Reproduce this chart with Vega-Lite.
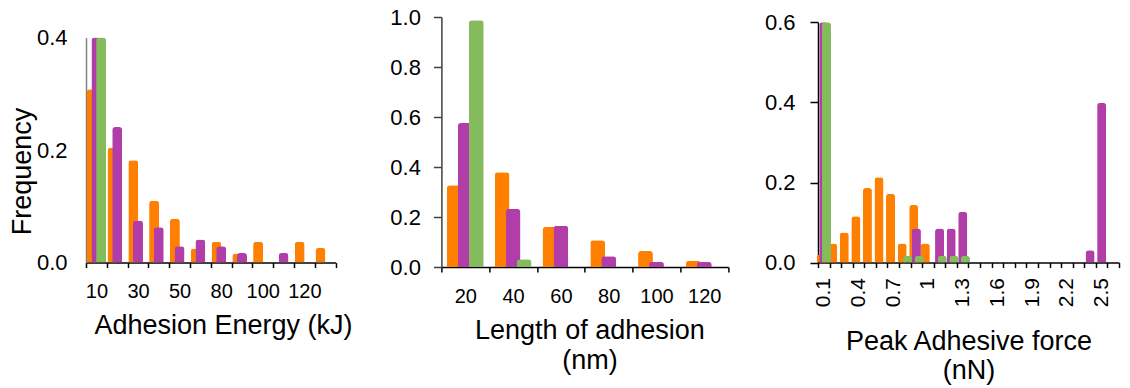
{
  "$schema": "https://vega.github.io/schema/vega-lite/v6.json",
  "padding": {"left": 8, "top": 6, "right": 4, "bottom": 2},
  "background": "white",
  "config": {
    "view": {"stroke": null},
    "font": "Liberation Sans",
    "axis": {
      "grid": false,
      "labelColor": "#000000",
      "titleColor": "#000000",
      "labelFont": "Liberation Sans",
      "titleFont": "Liberation Sans",
      "labelFontSize": 20,
      "titleFontSize": 27,
      "titleFontWeight": "normal",
      "domainColor": "#000000",
      "tickColor": "#000000",
      "domainWidth": 1.5,
      "tickWidth": 1.5
    },
    "axisY": {"labelFontSize": 22}
  },
  "datasets": {
    "energy": [
      {"bin": "10", "series": "Series 1", "freq": 0.308},
      {"bin": "20", "series": "Series 1", "freq": 0.204},
      {"bin": "30", "series": "Series 1", "freq": 0.182},
      {"bin": "40", "series": "Series 1", "freq": 0.110},
      {"bin": "50", "series": "Series 1", "freq": 0.078},
      {"bin": "60", "series": "Series 1", "freq": 0.025},
      {"bin": "80", "series": "Series 1", "freq": 0.037},
      {"bin": "90", "series": "Series 1", "freq": 0.016},
      {"bin": "100", "series": "Series 1", "freq": 0.037},
      {"bin": "120", "series": "Series 1", "freq": 0.037},
      {"bin": "130", "series": "Series 1", "freq": 0.026},
      {"bin": "10", "series": "Series 2", "freq": 0.45},
      {"bin": "20", "series": "Series 2", "freq": 0.241},
      {"bin": "30", "series": "Series 2", "freq": 0.075},
      {"bin": "40", "series": "Series 2", "freq": 0.063},
      {"bin": "50", "series": "Series 2", "freq": 0.029},
      {"bin": "60", "series": "Series 2", "freq": 0.041},
      {"bin": "80", "series": "Series 2", "freq": 0.029},
      {"bin": "90", "series": "Series 2", "freq": 0.017},
      {"bin": "110", "series": "Series 2", "freq": 0.017},
      {"bin": "10", "series": "Series 3", "freq": 1.0}
    ],
    "length": [
      {"bin": "20", "series": "Series 1", "freq": 0.327},
      {"bin": "40", "series": "Series 1", "freq": 0.379},
      {"bin": "60", "series": "Series 1", "freq": 0.160},
      {"bin": "80", "series": "Series 1", "freq": 0.107},
      {"bin": "100", "series": "Series 1", "freq": 0.064},
      {"bin": "120", "series": "Series 1", "freq": 0.025},
      {"bin": "20", "series": "Series 2", "freq": 0.576},
      {"bin": "40", "series": "Series 2", "freq": 0.232},
      {"bin": "60", "series": "Series 2", "freq": 0.165},
      {"bin": "80", "series": "Series 2", "freq": 0.043},
      {"bin": "100", "series": "Series 2", "freq": 0.020},
      {"bin": "120", "series": "Series 2", "freq": 0.020},
      {"bin": "20", "series": "Series 3", "freq": 0.987},
      {"bin": "40", "series": "Series 3", "freq": 0.031}
    ],
    "force": [
      {"bin": "0.1", "series": "Series 1", "freq": 0.020},
      {"bin": "0.2", "series": "Series 1", "freq": 0.048},
      {"bin": "0.3", "series": "Series 1", "freq": 0.075},
      {"bin": "0.4", "series": "Series 1", "freq": 0.116},
      {"bin": "0.5", "series": "Series 1", "freq": 0.186},
      {"bin": "0.6", "series": "Series 1", "freq": 0.213},
      {"bin": "0.7", "series": "Series 1", "freq": 0.172},
      {"bin": "0.8", "series": "Series 1", "freq": 0.048},
      {"bin": "0.9", "series": "Series 1", "freq": 0.144},
      {"bin": "1", "series": "Series 1", "freq": 0.048},
      {"bin": "0.1", "series": "Series 2", "freq": 0.65},
      {"bin": "0.9", "series": "Series 2", "freq": 0.085},
      {"bin": "1.1", "series": "Series 2", "freq": 0.085},
      {"bin": "1.2", "series": "Series 2", "freq": 0.085},
      {"bin": "1.3", "series": "Series 2", "freq": 0.127},
      {"bin": "2.4", "series": "Series 2", "freq": 0.031},
      {"bin": "2.5", "series": "Series 2", "freq": 0.399},
      {"bin": "0.1", "series": "Series 3", "freq": 1.0},
      {"bin": "0.8", "series": "Series 3", "freq": 0.017},
      {"bin": "0.9", "series": "Series 3", "freq": 0.017},
      {"bin": "1.1", "series": "Series 3", "freq": 0.017},
      {"bin": "1.2", "series": "Series 3", "freq": 0.017},
      {"bin": "1.3", "series": "Series 3", "freq": 0.017}
    ]
  },
  "spacing": 34,
  "hconcat": [
    {
      "bounds": "flush",
      "spacing": 105.4,
      "hconcat": [
        {
          "width": 249.6,
          "height": 245.6,
          "data": {"name": "energy"},
          "encoding": {
            "x": {
              "field": "bin", "type": "ordinal",
              "scale": {"domain": ["10","20","30","40","50","60","80","90","100","110","120","130"], "paddingInner": 0, "paddingOuter": 0},
              "axis": {
                "title": "Adhesion Energy (kJ)",
                "labelAngle": 0,
                "tickBand": "extent",
                "tickSize": 5,
                "labelPadding": 14,
                "titlePadding": 11,
                "titleX": 137,
                "titleAnchor": null,
                "titleAlign": "center",
                "labelExpr": "indexof(['10','30','50','80','100','120'], datum.value) >= 0 ? datum.label : ''"
              }
            },
            "y": {
              "field": "freq", "type": "quantitative",
              "scale": {"domain": [0, 0.4], "range": [245.6, 20.6], "clamp": true, "nice": false},
              "axis": {
                "title": "Frequency",
                "titleY": 154,
                "titleAnchor": null,
                "titleAlign": "center",
                "values": [0, 0.2, 0.4],
                "format": ".1f",
                "ticks": false,
                "labelPadding": 19,
                "titlePadding": 0,
                "domainColor": "#808080"
              }
            },
            "color": {
              "field": "series", "type": "nominal",
              "scale": {"domain": ["Series 1","Series 2","Series 3"], "range": ["#FF7F00","#B13DA9","#84BB5D"]},
              "legend": null
            }
          },
          "layer": [
            {"transform": [{"filter": "datum.series === 'Series 1'"}], "mark": {"type": "bar", "width": {"band": 0.48}, "xOffset": -4.7, "cornerRadiusTopLeft": 3, "cornerRadiusTopRight": 3}},
            {"transform": [{"filter": "datum.series === 'Series 2'"}], "mark": {"type": "bar", "width": {"band": 0.48}, "xOffset": 0, "cornerRadiusTopLeft": 3, "cornerRadiusTopRight": 3}},
            {"transform": [{"filter": "datum.series === 'Series 3'"}], "mark": {"type": "bar", "width": {"band": 0.48}, "xOffset": 4.7, "cornerRadiusTopLeft": 3, "cornerRadiusTopRight": 3}}
          ]
        },
        {
          "width": 286.8,
          "height": 250,
          "data": {"name": "length"},
          "encoding": {
            "x": {
              "field": "bin", "type": "ordinal",
              "scale": {"domain": ["20","40","60","80","100","120"], "paddingInner": 0, "paddingOuter": 0},
              "axis": {
                "title": ["Length of adhesion", "(nm)"],
                "titleLineHeight": 30,
                "labelAngle": 0,
                "tickBand": "extent",
                "tickSize": 5,
                "labelPadding": 14,
                "titlePadding": 11,
                "titleX": 148,
                "titleAnchor": null,
                "titleAlign": "center"
              }
            },
            "y": {
              "field": "freq", "type": "quantitative",
              "scale": {"domain": [0, 1], "clamp": true, "nice": false},
              "axis": {
                "title": null,
                "values": [0, 0.2, 0.4, 0.6, 0.8, 1.0],
                "format": ".1f",
                "tickSize": 8,
                "labelPadding": 13,
                "domainColor": "#404040",
                "tickColor": "#404040"
              }
            },
            "color": {
              "field": "series", "type": "nominal",
              "scale": {"domain": ["Series 1","Series 2","Series 3"], "range": ["#FF7F00","#B13DA9","#84BB5D"]},
              "legend": null
            }
          },
          "layer": [
            {"transform": [{"filter": "datum.series === 'Series 1'"}], "mark": {"type": "bar", "width": {"band": 0.31}, "xOffset": -11, "cornerRadiusTopLeft": 3, "cornerRadiusTopRight": 3}},
            {"transform": [{"filter": "datum.series === 'Series 2'"}], "mark": {"type": "bar", "width": {"band": 0.31}, "xOffset": 0, "cornerRadiusTopLeft": 3, "cornerRadiusTopRight": 3}},
            {"transform": [{"filter": "datum.series === 'Series 3'"}], "mark": {"type": "bar", "width": {"band": 0.31}, "xOffset": 11, "cornerRadiusTopLeft": 3, "cornerRadiusTopRight": 3}}
          ]
        }
      ]
    },
    {
      "width": 301,
      "height": 245.6,
      "data": {"name": "force"},
      "encoding": {
        "x": {
          "field": "bin", "type": "ordinal",
          "scale": {"domain": ["0.1","0.2","0.3","0.4","0.5","0.6","0.7","0.8","0.9","1","1.1","1.2","1.3","1.4","1.5","1.6","1.7","1.8","1.9","2","2.1","2.2","2.3","2.4","2.5","2.6"], "paddingInner": 0, "paddingOuter": 0},
          "axis": {
            "title": ["Peak Adhesive force", "(nN)"],
            "titleLineHeight": 29,
            "labelFontSize": 21,
            "labelAngle": -90,
            "tickBand": "extent",
            "tickSize": 5,
            "labelPadding": 10,
            "titlePadding": 22,
            "labelExpr": "indexof(['0.1','0.4','0.7','1','1.3','1.6','1.9','2.2','2.5'], datum.value) >= 0 ? datum.label : ''"
          }
        },
        "y": {
          "field": "freq", "type": "quantitative",
          "scale": {"domain": [0, 0.6], "range": [245.6, 5.3], "clamp": true, "nice": false},
          "axis": {
            "title": null,
            "values": [0, 0.2, 0.4, 0.6],
            "format": ".1f",
            "tickSize": 8,
            "labelPadding": 15
          }
        },
        "color": {
          "field": "series", "type": "nominal",
          "scale": {"domain": ["Series 1","Series 2","Series 3"], "range": ["#FF7F00","#B13DA9","#84BB5D"]},
          "legend": null
        }
      },
      "layer": [
        {"transform": [{"filter": "datum.series === 'Series 1'"}], "mark": {"type": "bar", "width": {"band": 0.78}, "xOffset": -2.7, "cornerRadiusTopLeft": 3, "cornerRadiusTopRight": 3}},
        {"transform": [{"filter": "datum.series === 'Series 2'"}], "mark": {"type": "bar", "width": {"band": 0.78}, "xOffset": 0, "cornerRadiusTopLeft": 3, "cornerRadiusTopRight": 3}},
        {"transform": [{"filter": "datum.series === 'Series 3'"}], "mark": {"type": "bar", "width": {"band": 0.78}, "xOffset": 2.7, "cornerRadiusTopLeft": 3, "cornerRadiusTopRight": 3}}
      ]
    }
  ]
}
